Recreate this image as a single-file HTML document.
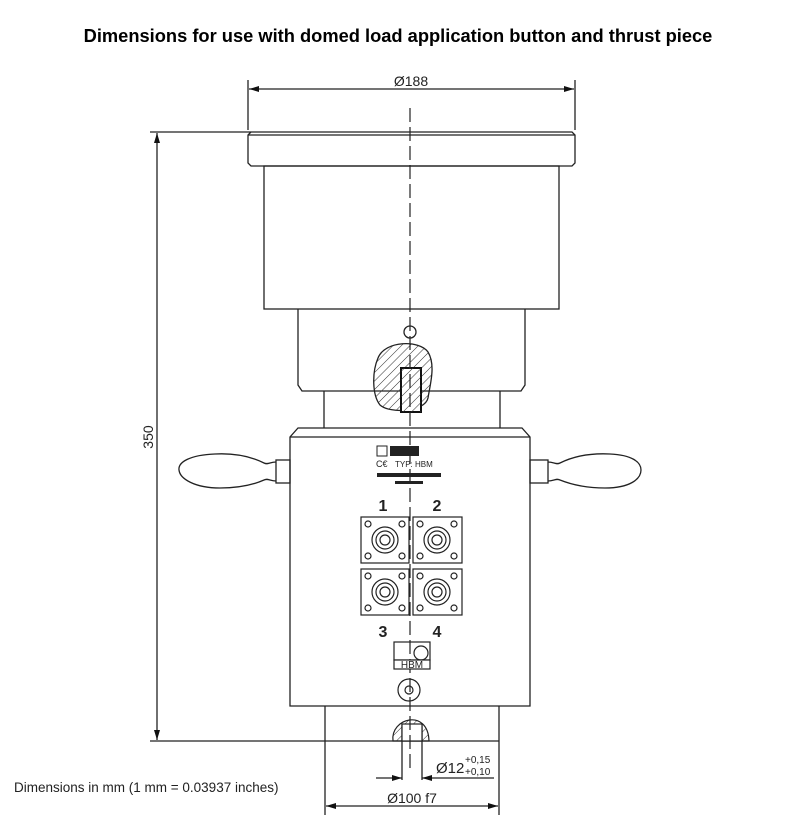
<!DOCTYPE html>
<html><head><style>
body{margin:0;background:#fff;width:800px;height:833px;overflow:hidden}
</style></head><body>
<svg width="800" height="833" xmlns="http://www.w3.org/2000/svg" font-family="Liberation Sans, Arial, sans-serif">
<defs>
<pattern id="h" width="6" height="6" patternUnits="userSpaceOnUse" patternTransform="rotate(45)">
<line x1="0" y1="0" x2="0" y2="6" stroke="#333" stroke-width="1"/></pattern>
<marker id="a" viewBox="0 0 10 6" refX="10" refY="3" markerWidth="14" markerHeight="6" orient="auto-start-reverse" markerUnits="userSpaceOnUse"><path d="M0,0L10,3L0,6z" fill="#111"/></marker>
</defs>
<text x="398" y="42" text-anchor="middle" font-size="18.3" font-weight="bold">Dimensions for use with domed load application button and thrust piece</text>
<g stroke="#222" stroke-width="1.3" fill="none">
<line x1="248" y1="80" x2="248" y2="130"/><line x1="575" y1="80" x2="575" y2="130"/>
<line x1="249" y1="89" x2="574" y2="89" marker-start="url(#a)" marker-end="url(#a)"/>
<path d="M150,132 H572 L575,135 V163 L572,166 H251 L248,163 V135 L251,132"/>
<line x1="248" y1="135" x2="575" y2="135"/>
<rect x="264" y="166" width="295" height="143"/>
<path d="M298,309 V385 L302,391 H521 L525,385 V309"/>
<line x1="324" y1="391" x2="324" y2="428"/><line x1="500" y1="391" x2="500" y2="428"/>
<path d="M298,428 H522 L530,437 V706 H290 V437 Z"/>
<line x1="290" y1="437" x2="530" y2="437"/>
<rect x="276" y="460" width="14" height="23"/><rect x="530" y="460" width="18" height="23"/>
<path d="M276,462 C270,462 268,465 264,463 C250,456 235,453 215,454 C190,455 178,462 179,470 C180,479 195,488 220,488 C240,488 255,484 264,480 C268,478 270,481 276,481"/>
<path d="M548,462 C554,462 556,465 560,463 C574,456 590,453 610,454 C632,455 641,462 641,470 C641,479 630,488 605,488 C585,488 570,484 560,480 C556,478 554,481 548,481"/>
<line x1="325" y1="706" x2="325" y2="815"/><line x1="499" y1="706" x2="499" y2="815"/>
<line x1="150" y1="741" x2="499" y2="741"/>
<line x1="326" y1="806" x2="498" y2="806" marker-start="url(#a)" marker-end="url(#a)"/>
<line x1="402" y1="724" x2="402" y2="780"/><line x1="422" y1="724" x2="422" y2="780"/>
<line x1="376" y1="778" x2="402" y2="778" marker-end="url(#a)"/>
<line x1="494" y1="778" x2="422" y2="778" marker-end="url(#a)"/>
<line x1="157" y1="133" x2="157" y2="740" marker-start="url(#a)" marker-end="url(#a)"/>
</g>
<path d="M378,358 C385,340 420,340 428,352 C436,365 430,385 428,398 C425,412 390,414 380,405 C372,395 372,372 378,358Z" fill="url(#h)" stroke="#222" stroke-width="1.3"/>
<rect x="401" y="368" width="20" height="44" fill="#fff" stroke="#111" stroke-width="2"/>
<rect x="401" y="368" width="20" height="44" fill="url(#h)"/>
<path d="M393,741 C390,718 428,708 429,741Z" fill="url(#h)" stroke="#222" stroke-width="1.2"/>
<rect x="402" y="724" width="20" height="17" fill="#fff" stroke="#222" stroke-width="1.2"/>
<circle cx="410" cy="332" r="6" fill="#fff" stroke="#222" stroke-width="1.3"/>
<line x1="410" y1="108" x2="410" y2="770" stroke="#222" stroke-width="1.2" stroke-dasharray="14,5"/>
<g fill="#222">
<rect x="377" y="446" width="10" height="10" fill="none" stroke="#222"/>
<rect x="390" y="446" width="29" height="10"/>
<text x="376" y="467" font-size="9">C€</text><text x="395" y="467" font-size="8">TYP: HBM</text>
<rect x="377" y="473" width="64" height="4"/>
<rect x="395" y="481" width="28" height="3"/>
</g>
<g stroke="#222" stroke-width="1.2" fill="none">
<rect x="361" y="517" width="48" height="46"/><rect x="413" y="517" width="49" height="46"/>
<rect x="361" y="569" width="48" height="46"/><rect x="413" y="569" width="49" height="46"/>
<g id="c"><circle cx="385" cy="540" r="13"/><circle cx="385" cy="540" r="9"/><circle cx="385" cy="540" r="5"/>
<circle cx="368" cy="524" r="3"/><circle cx="402" cy="524" r="3"/><circle cx="368" cy="556" r="3"/><circle cx="402" cy="556" r="3"/></g>
<use href="#c" x="52"/><use href="#c" y="52"/><use href="#c" x="52" y="52"/>
<rect x="394" y="642" width="36" height="18"/><circle cx="421" cy="653" r="7"/>
<rect x="394" y="660" width="36" height="9" fill="#fff"/>
<circle cx="409" cy="690" r="11"/><circle cx="409" cy="690" r="4"/>
</g>
<text x="412" y="668" font-size="10" text-anchor="middle" fill="#222">HBM</text>
<g font-size="16" font-weight="bold" fill="#222" text-anchor="middle">
<text x="383" y="511">1</text><text x="437" y="511">2</text><text x="383" y="637">3</text><text x="437" y="637">4</text>
</g>
<text x="411" y="86" font-size="14" text-anchor="middle" fill="#222">Ø188</text>
<text x="153" y="437" font-size="14" text-anchor="middle" fill="#222" transform="rotate(-90 153 437)">350</text>
<text x="436" y="773" font-size="15" fill="#222">Ø12</text>
<text x="465" y="763" font-size="10" fill="#222">+0,15</text>
<text x="465" y="775" font-size="10" fill="#222">+0,10</text>
<text x="412" y="803" font-size="14" text-anchor="middle" fill="#222">Ø100 f7</text>
<text x="14" y="792" font-size="13.5" fill="#222">Dimensions in mm (1 mm = 0.03937 inches)</text>
</svg>
</body></html>
